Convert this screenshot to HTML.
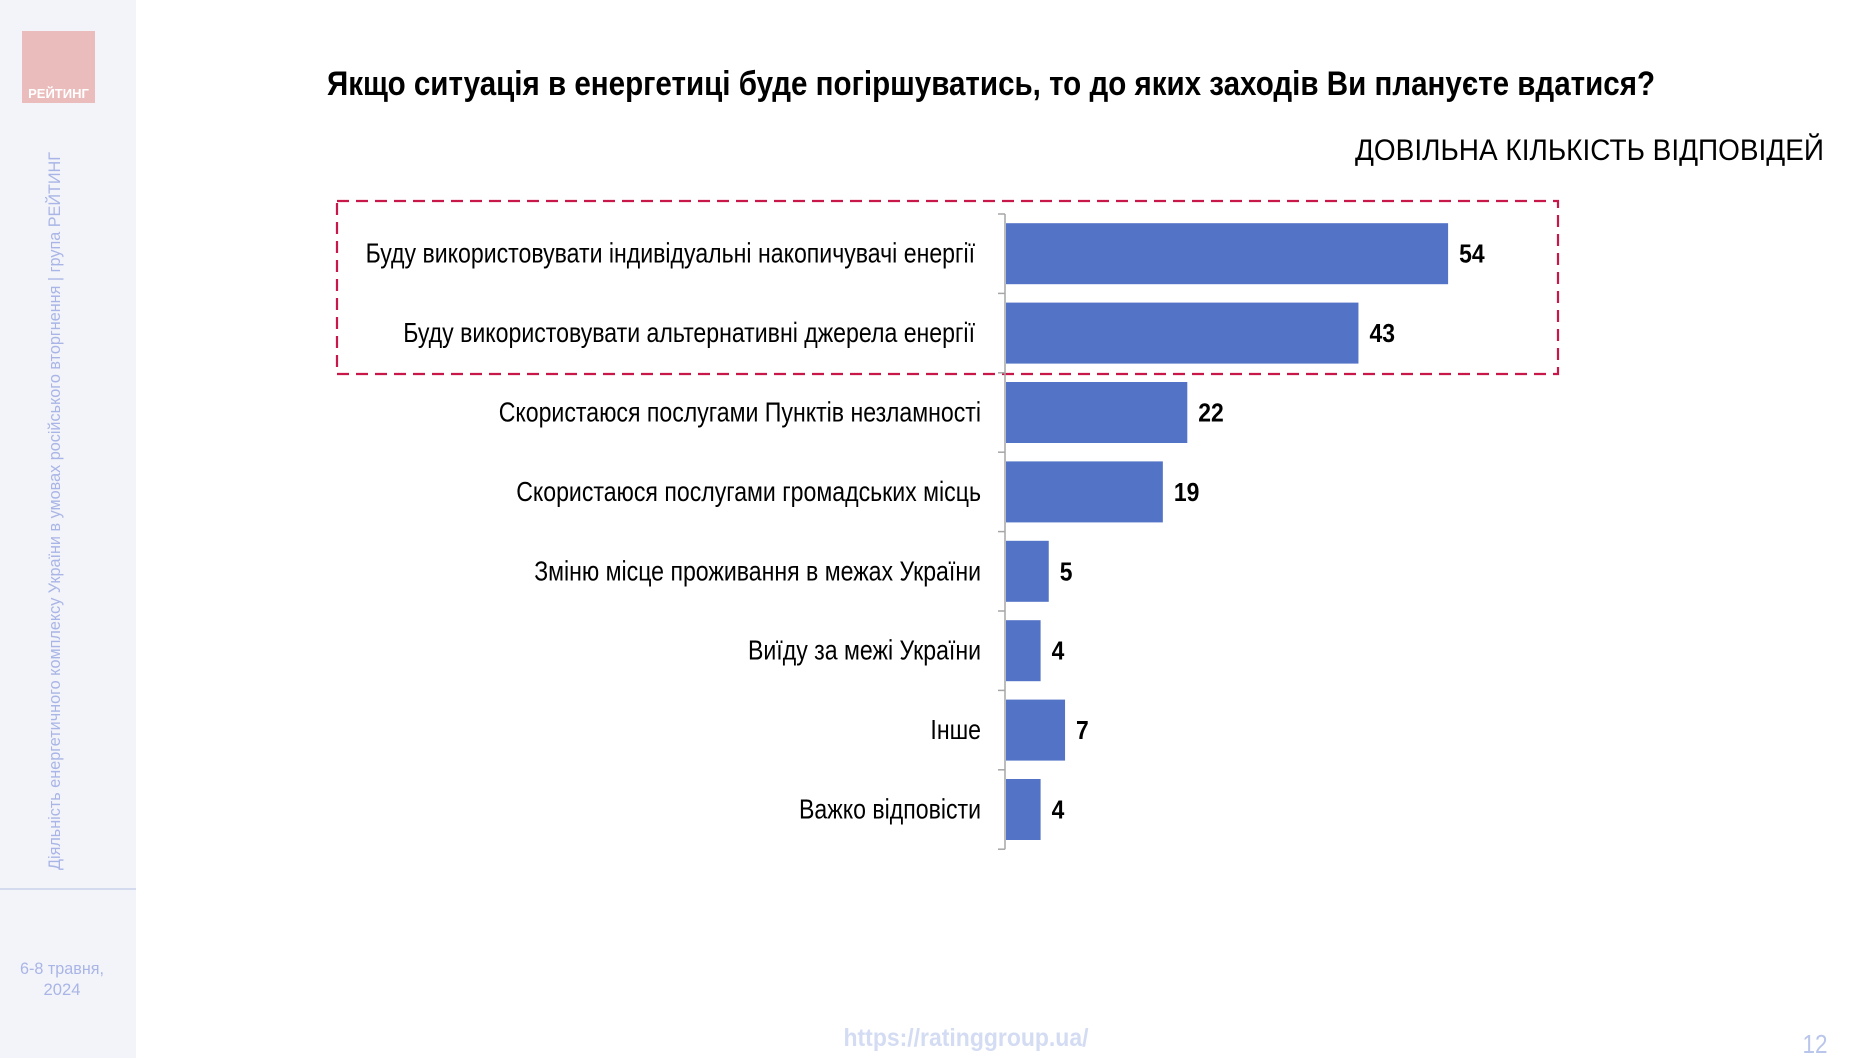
<!DOCTYPE html>
<html><head><meta charset="utf-8">
<style>
html,body{margin:0;padding:0;background:#fff;}
body{width:1866px;height:1058px;overflow:hidden;position:relative;font-family:"Liberation Sans","DejaVu Sans",sans-serif;}
</style></head>
<body>
<svg id="chart" width="1866" height="1058" xmlns="http://www.w3.org/2000/svg" font-family="Liberation Sans, DejaVu Sans, sans-serif">
  <rect x="0" y="0" width="136" height="1058" fill="#f3f4f9"/>
  <line x1="0" y1="889" x2="136" y2="889" stroke="#d5dbef" stroke-width="2"/>
  <g>
    <rect x="22" y="31" width="73" height="72" fill="#ebbcbc"/>
    <text x="58.5" y="98" text-anchor="middle" font-size="13" font-weight="bold" fill="#fff">РЕЙТИНГ</text>
  </g>
  <text transform="translate(60,870) rotate(-90)" font-size="17" fill="#a9b5e6" textLength="718" lengthAdjust="spacingAndGlyphs">Діяльність енергетичного комплексу України в умовах російського вторгнення | група РЕЙТИНГ</text>
  <text x="62" y="974" text-anchor="middle" font-size="17" fill="#a9b5e6" textLength="84" lengthAdjust="spacingAndGlyphs">6-8 травня,</text>
  <text x="62" y="995" text-anchor="middle" font-size="17" fill="#a9b5e6" textLength="37" lengthAdjust="spacingAndGlyphs">2024</text>
  <text x="327" y="95" font-size="34" font-weight="bold" fill="#000" textLength="1328" lengthAdjust="spacingAndGlyphs">Якщо ситуація в енергетиці буде погіршуватись, то до яких заходів Ви плануєте вдатися?</text>
  <text x="1355" y="160" font-size="30" fill="#000" textLength="469" lengthAdjust="spacingAndGlyphs">ДОВІЛЬНА КІЛЬКІСТЬ ВІДПОВІДЕЙ</text>
  <rect x="337" y="201" width="1221" height="173" fill="none" stroke="#c8184a" stroke-width="2.2" stroke-dasharray="12,7"/>
  <g id="plot"></g>
  <text x="966" y="1046" text-anchor="middle" font-size="25" font-weight="bold" fill="#d3dcf3" textLength="245" lengthAdjust="spacingAndGlyphs">https://ratinggroup.ua/</text>
  <text x="1815" y="1053" text-anchor="middle" font-size="26" fill="#b9c5ea" textLength="25" lengthAdjust="spacingAndGlyphs">12</text>
</svg>
<script>
const categories = [
  "Буду використовувати індивідуальні накопичувачі енергії",
  "Буду використовувати альтернативні джерела енергії",
  "Скористаюся послугами Пунктів незламності",
  "Скористаюся послугами громадських місць",
  "Зміню місце проживання в межах України",
  "Виїду за межі України",
  "Інше",
  "Важко відповісти"
];
const values = [54, 43, 22, 19, 5, 4, 7, 4];
const valueLabels = ["54", "43", "22", "19", "5", "4", "7", "4"];

const NS = "http://www.w3.org/2000/svg";
const plot = document.getElementById("plot");
const x0 = 1005, unit = 8.15, base = 3;
const yTop = 214, band = 79.4, barH = 61;
function xScale(v){ return x0 + base + v*unit; }
function yBand(i){ return yTop + i*band; }
function mk(tag, attrs){ const e=document.createElementNS(NS,tag); for(const k in attrs) e.setAttribute(k,attrs[k]); plot.appendChild(e); return e; }

const axis = mk("line",{x1:x0,y1:yTop,x2:x0,y2:yBand(categories.length),stroke:"#a6a6a6","stroke-width":1.5});


for(let i=0;i<=categories.length;i++){
  const t = mk("line",{x1:x0-7,y1:yBand(i),x2:x0,y2:yBand(i),stroke:"#a6a6a6","stroke-width":1.5});
  
  
}
categories.forEach((c,i)=>{
  const yc = yBand(i) + band/2;
  const b = mk("rect",{x:x0+1,y:yc-barH/2,width:xScale(values[i])-x0-1,height:barH,fill:"#5373c6"});
  
  
  const lab = mk("text",{x:(i<2?975:981),y:yc+9,"text-anchor":"end","font-size":28,fill:"#000"});
  lab.textContent = c;
  
  
  let len = lab.getComputedTextLength();
  if(len>0){ lab.setAttribute("textLength",(len*0.825).toFixed(1)); lab.setAttribute("lengthAdjust","spacingAndGlyphs"); }
  const v = mk("text",{x:xScale(values[i])+11,y:yc+9,"font-size":26,"font-weight":"bold",fill:"#000"});
  v.textContent = valueLabels[i];
  
  
  len = v.getComputedTextLength();
  if(len>0){ v.setAttribute("textLength",(len*0.88).toFixed(1)); v.setAttribute("lengthAdjust","spacingAndGlyphs"); }
});
</script>
</body></html>
